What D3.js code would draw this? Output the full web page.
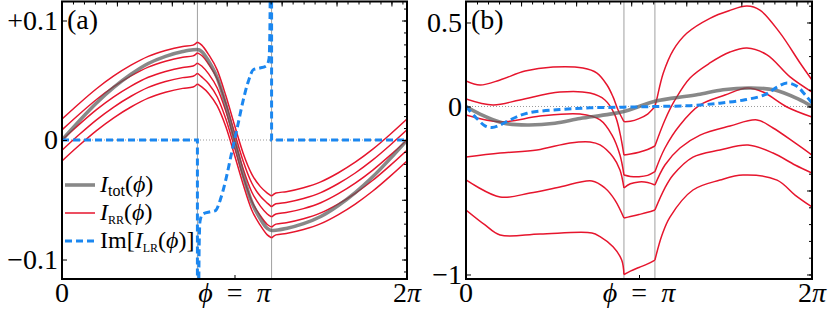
<!DOCTYPE html>
<html>
<head>
<meta charset="utf-8">
<script src="https://cdn.jsdelivr.net/npm/d3@7"></script>
<style>
body { margin: 0; background: #fff; }
</style>
</head>
<body>
<svg id="vis" width="830" height="312"></svg>
<script>
// phi is given in units of pi everywhere

// ---- panel (a) ----
const phiA = [0, 0.1, 0.2, 0.3, 0.4, 0.5, 0.6, 0.7, 0.76, 0.785, 0.81, 0.85, 0.9, 0.95, 1.0,
    1.05, 1.1, 1.15, 1.19, 1.215, 1.24, 1.3, 1.4, 1.5, 1.6, 1.7, 1.8, 1.9, 2.0];
const kinksA = [0.785, 1.215];
const totA = [0, 0.016, 0.031, 0.044, 0.055, 0.064, 0.070, 0.074, 0.0755, 0.0757,
    0.074, 0.066, 0.052, 0.029, 0, -0.029, -0.052, -0.066, -0.074, -0.0757, -0.0755,
    -0.074, -0.070, -0.064, -0.055, -0.044, -0.031, -0.016, 0];
const rrA = [
    [0.0175, 0.0306, 0.0429, 0.0536, 0.0626, 0.0700, 0.0749, 0.0782, 0.0794, 0.0819,
     0.0794, 0.0715, 0.0585, 0.037, 0.0125, -0.011, -0.0285, -0.039, -0.0444, -0.0469, -0.0444,
     -0.0432, -0.0399, -0.0350, -0.0276, -0.0186, -0.0079, 0.0044, 0.0175],
    [0.0085, 0.0216, 0.0339, 0.0446, 0.0536, 0.0610, 0.0659, 0.0692, 0.0704, 0.0729,
     0.0707, 0.0634, 0.051, 0.0305, 0.0063, -0.0175, -0.036, -0.0471, -0.0528, -0.0559, -0.0534,
     -0.0522, -0.0489, -0.0440, -0.0366, -0.0276, -0.0169, -0.0046, 0.0085],
    [0, 0.0131, 0.0254, 0.0361, 0.0451, 0.0525, 0.0574, 0.0607, 0.0619, 0.0644,
     0.0619, 0.0553, 0.0435, 0.024, 0, -0.024, -0.0435, -0.0553, -0.0619, -0.0644, -0.0619,
     -0.0607, -0.0574, -0.0525, -0.0451, -0.0361, -0.0254, -0.0131, 0],
    [-0.0085, 0.0046, 0.0169, 0.0276, 0.0366, 0.0440, 0.0489, 0.0522, 0.0534, 0.0559,
     0.0528, 0.0471, 0.036, 0.0175, -0.0063, -0.0305, -0.051, -0.0634, -0.0707, -0.0729, -0.0704,
     -0.0692, -0.0659, -0.0610, -0.0536, -0.0446, -0.0339, -0.0216, -0.0085],
    [-0.0175, -0.0044, 0.0079, 0.0186, 0.0276, 0.0350, 0.0399, 0.0432, 0.0444, 0.0469,
     0.0444, 0.039, 0.0285, 0.011, -0.0125, -0.037, -0.0585, -0.0715, -0.0794, -0.0819, -0.0794,
     -0.0782, -0.0749, -0.0700, -0.0626, -0.0536, -0.0429, -0.0306, -0.0175]
];
// Im[I_LR], three pieces (diverges at the kinks)
const lrA = [
    [[0, 0], [0.785, 0], [0.785, -0.3]],
    [[0.788, -0.3], [0.795, -0.09], [0.80, -0.068], [0.815, -0.062], [0.86, -0.060], [0.89, -0.059],
     [0.92, -0.049], [0.95, -0.033], [0.98, -0.013], [1.0, 0], [1.02, 0.013], [1.05, 0.033],
     [1.08, 0.049], [1.11, 0.059], [1.14, 0.060], [1.185, 0.062], [1.20, 0.068], [1.205, 0.09], [1.212, 0.3]],
    [[1.215, 0.3], [1.215, 0], [2, 0]]
];
const yTicksA = [0.1, 0, -0.1];
const yLabelsA = ["+0.1", "0", "\u22120.1"];

// ---- panel (b) ----
const kinksB = [0.913, 1.092];
const totB = [[0, 0], [0.081, -0.045], [0.214, -0.098], [0.353, -0.110], [0.514, -0.100], [0.659, -0.072],
    [0.803, -0.050], [0.913, -0.030], [1.0, 0], [1.087, 0.030], [1.197, 0.050], [1.341, 0.072],
    [1.486, 0.100], [1.647, 0.110], [1.786, 0.098], [1.919, 0.045], [2.0, 0]];
const lrB = [[0, 0], [0.052, -0.06], [0.110, -0.115], [0.150, -0.125], [0.197, -0.11], [0.254, -0.08],
    [0.353, -0.04], [0.543, -0.018], [0.717, -0.008], [0.913, -0.004], [1.092, 0], [1.295, 0.005],
    [1.468, 0.02], [1.613, 0.04], [1.728, 0.07], [1.798, 0.115], [1.855, 0.14], [1.913, 0.12],
    [1.960, 0.07], [2.0, 0.02]];
const rrBLeft = [
    [[0, 0.152], [0.081, 0.128], [0.197, 0.158], [0.341, 0.211], [0.503, 0.235], [0.676, 0.229],
     [0.757, 0.199], [0.815, 0.128], [0.850, 0.057], [0.879, -0.021], [0.913, -0.090]],
    [[0, 0.045], [0.156, 0.009], [0.312, 0.039], [0.543, 0.086], [0.717, 0.080], [0.803, 0.039],
     [0.861, -0.051], [0.890, -0.158], [0.913, -0.289]],
    [[0, -0.051], [0.197, -0.092], [0.428, -0.057], [0.659, -0.045], [0.775, -0.080], [0.844, -0.170],
     [0.890, -0.289], [0.913, -0.408]],
    [[0, -0.301], [0.197, -0.277], [0.410, -0.259], [0.601, -0.217], [0.717, -0.211], [0.775, -0.229],
     [0.850, -0.301], [0.890, -0.378], [0.913, -0.485]],
    [[0, -0.437], [0.197, -0.539], [0.370, -0.515], [0.543, -0.479], [0.728, -0.443], [0.803, -0.485],
     [0.861, -0.557], [0.913, -0.664]],
    [[0, -0.616], [0.110, -0.705], [0.197, -0.765], [0.428, -0.759], [0.728, -0.753], [0.775, -0.775],
     [0.850, -0.835], [0.900, -0.914], [0.913, -1.0]]
];
const rrBMid = [
    [[0.913, -0.090], [0.95, -0.088], [1.0, -0.072], [1.05, -0.045], [1.092, -0.001]],
    [[0.913, -0.289], [0.95, -0.283], [1.0, -0.272], [1.05, -0.256], [1.092, -0.235]],
    [[0.913, -0.408], [0.95, -0.416], [1.0, -0.418], [1.05, -0.410], [1.092, -0.388]],
    [[0.913, -0.485], [0.95, -0.460], [1.0, -0.449], [1.05, -0.452], [1.092, -0.467]],
    [[0.913, -0.664], [0.95, -0.655], [1.0, -0.643], [1.05, -0.630], [1.092, -0.616]],
    [[0.913, -1.0], [0.95, -0.980], [1.0, -0.958], [1.05, -0.937], [1.092, -0.914]]
];
const rrBRight = [
    [[1.092, -0.001], [1.102, 0.04], [1.140, 0.198], [1.198, 0.336], [1.276, 0.436], [1.410, 0.525],
     [1.520, 0.570], [1.624, 0.598], [1.699, 0.574], [1.815, 0.438], [1.931, 0.259], [2.0, 0.158]],
    [[1.092, -0.235], [1.150, -0.080], [1.208, 0.039], [1.295, 0.170], [1.410, 0.259], [1.526, 0.324],
     [1.624, 0.348], [1.740, 0.307], [1.873, 0.176], [2.0, 0.086]],
    [[1.092, -0.388], [1.150, -0.247], [1.237, -0.110], [1.353, 0.009], [1.497, 0.068], [1.624, 0.110],
     [1.717, 0.086], [1.855, -0.003], [2.0, -0.063]],
    [[1.092, -0.467], [1.150, -0.348], [1.237, -0.247], [1.353, -0.170], [1.526, -0.116], [1.682, -0.080],
     [1.775, -0.128], [1.902, -0.217], [2.0, -0.289]],
    [[1.092, -0.616], [1.150, -0.485], [1.197, -0.408], [1.312, -0.301], [1.468, -0.259], [1.630, -0.229],
     [1.775, -0.277], [1.902, -0.348], [2.0, -0.396]],
    [[1.092, -0.914], [1.133, -0.765], [1.179, -0.658], [1.312, -0.497], [1.468, -0.438], [1.601, -0.408],
     [1.798, -0.438], [1.902, -0.527], [2.0, -0.598]]
];
const yTicksB = [0.5, 0, -1];
const yLabelsB = ["0.5", "0", "\u22121"];

const RED = "#e6152d";
const GRAY = "#5a5a5a";
const BLUE = "#1b87f0";
const FS = 28;
const FONT = "'Liberation Serif'";

const svg = d3.select('#vis');

const xA = d3.scaleLinear().domain([0, 2]).range([62, 407]);
const yA = d3.scaleLinear().domain([-0.1163, 0.1159]).range([279, 1.5]);
const xB = d3.scaleLinear().domain([0, 2]).range([466, 812]);
const yB = d3.scaleLinear().domain([-1.0268, 0.625]).range([279, 1.5]);

// split one sampled curve into pieces at the kink positions
function splitAt(phis, vals, kinks) {
    var pieces = [], cur = [];
    phis.forEach(function (p, i) {
        cur.push([p, vals[i]]);
        if (kinks.indexOf(p) >= 0) {
            pieces.push(cur);
            cur = [[p, vals[i]]];
        }
    });
    pieces.push(cur);
    return pieces;
}

function label(sel, size) {
    return sel.style("font-family", FONT).style("font-size", size + "px");
}

function panel(id, x, y, opts) {
    var g = svg.append("g");
    var x0 = x.range()[0], x1 = x.range()[1];
    var yb = y.range()[0], yt = y.range()[1];

    svg.append("clipPath").attr("id", "clip" + id)
        .append("rect")
        .attr("x", x0).attr("y", yt)
        .attr("width", x1 - x0).attr("height", yb - yt);

    var plot = g.append("g").attr("clip-path", "url(#clip" + id + ")");

    // zero line and kink markers
    plot.append("line")
        .attr("x1", x0).attr("x2", x1)
        .attr("y1", y(0)).attr("y2", y(0))
        .attr("stroke", "#9a9a9a").attr("stroke-width", 1)
        .attr("stroke-dasharray", "1,2");
    plot.selectAll(".kink")
        .data(opts.kinks)
        .enter().append("line")
        .attr("x1", function (d) { return x(d); })
        .attr("x2", function (d) { return x(d); })
        .attr("y1", yt).attr("y2", yb)
        .attr("stroke", "#a0a0a0").attr("stroke-width", 1);

    var smooth = d3.line()
        .x(function (d) { return x(d[0]); })
        .y(function (d) { return y(d[1]); })
        .curve(opts.curve);
    var straight = d3.line()
        .x(function (d) { return x(d[0]); })
        .y(function (d) { return y(d[1]); });

    // I_RR
    plot.selectAll(".rr")
        .data(opts.rr)
        .enter().append("path")
        .attr("d", smooth)
        .attr("fill", "none")
        .attr("stroke", RED)
        .attr("stroke-width", 1.5);

    // I_tot
    plot.append("path")
        .attr("d", smooth(opts.tot))
        .attr("fill", "none")
        .attr("stroke", GRAY)
        .attr("stroke-opacity", 0.72)
        .attr("stroke-width", 3.6);

    // Im[I_LR]
    plot.selectAll(".lr")
        .data(opts.lr)
        .enter().append("path")
        .attr("d", function (d) {
            return d.length > 3 ? smooth(d) : straight(d);
        })
        .attr("fill", "none")
        .attr("stroke", BLUE)
        .attr("stroke-width", 3)
        .attr("stroke-dasharray", "7,4");

    // ticks: right (minor/major), top (every 0.2 rad), left and bottom majors
    function tickSet(axis, vals, size, tx) {
        var a = g.append("g")
            .attr("transform", tx)
            .call(axis.tickValues(vals).tickSize(-size).tickFormat(""));
        a.select(".domain").remove();
        a.selectAll("line").attr("stroke", "#000").attr("stroke-width", 1);
    }
    tickSet(d3.axisRight(y), opts.rightMinor, 3, "translate(" + x1 + ",0)");
    tickSet(d3.axisRight(y), opts.rightMajor, 5, "translate(" + x1 + ",0)");
    var radMinor = d3.range(1, 32).map(function (i) { return (i * 0.2) / Math.PI; })
        .filter(function (p) { return p < 2; });
    var radMajor = [1, 2, 3, 4, 5, 6].map(function (r) { return r / Math.PI; });
    tickSet(d3.axisTop(x), radMinor, 3, "translate(0," + yt + ")");
    tickSet(d3.axisTop(x), radMajor, 5, "translate(0," + yt + ")");
    tickSet(d3.axisLeft(y), opts.yTicks, 5, "translate(" + x0 + ",0)");
    tickSet(d3.axisBottom(x), [1], 4, "translate(0," + yb + ")");

    // frame
    g.append("rect")
        .attr("x", x0).attr("y", yt)
        .attr("width", x1 - x0).attr("height", yb - yt)
        .attr("fill", "none").attr("stroke", "#000").attr("stroke-width", 2);

    // tick labels
    label(g.selectAll(".ylab")
        .data(opts.yTicks)
        .enter().append("text")
        .attr("x", x0 - 4)
        .attr("y", function (d) { return y(d); })
        .attr("dy", "0.33em")
        .attr("text-anchor", "end")
        .text(function (d, i) { return opts.yLabels[i]; }), FS);

    label(g.append("text").attr("x", x(0)).attr("y", 302)
        .attr("text-anchor", "middle").text("0"), FS);
    var mid = label(g.append("text").attr("x", x(1)).attr("y", 302)
        .attr("text-anchor", "middle"), FS);
    mid.append("tspan").style("font-style", "italic").text("\u03d5");
    mid.append("tspan").text("\u2002=\u2002");
    mid.append("tspan").style("font-style", "italic").text("\u03c0");
    var end = label(g.append("text").attr("x", x(2)).attr("y", 302)
        .attr("text-anchor", "middle"), FS);
    end.append("tspan").text("2");
    end.append("tspan").style("font-style", "italic").text("\u03c0");

    label(g.append("text")
        .attr("x", x0 + 5).attr("y", 29)
        .text(opts.tag), FS);

    return g;
}

var rrPiecesA = [];
rrA.forEach(function (vals) {
    rrPiecesA = rrPiecesA.concat(splitAt(phiA, vals, kinksA));
});
var totPairsA = phiA.map(function (p, i) { return [p, totA[i]]; });

var gA = panel("A", xA, yA, {
    curve: d3.curveMonotoneX,
    kinks: kinksA,
    rr: rrPiecesA,
    tot: totPairsA,
    lr: lrA,
    yTicks: yTicksA,
    yLabels: yLabelsA,
    rightMinor: d3.range(-11, 12).map(function (i) { return i / 100; }),
    rightMajor: [-0.1, -0.05, 0, 0.05, 0.1],
    tag: "(a)"
});

panel("B", xB, yB, {
    curve: d3.curveCatmullRom.alpha(0.5),
    kinks: kinksB,
    rr: rrBLeft.concat(rrBMid, rrBRight),
    tot: totB,
    lr: [lrB],
    yTicks: yTicksB,
    yLabels: yLabelsB,
    rightMinor: d3.range(-10, 7).map(function (i) { return i / 10; }),
    rightMajor: [-1, -0.5, 0, 0.5],
    tag: "(b)"
});

// legend in panel (a)
var legend = [
    { stroke: GRAY, width: 3.6, opacity: 0.72, dash: null },
    { stroke: RED, width: 1.5, opacity: 1, dash: null },
    { stroke: BLUE, width: 3, opacity: 1, dash: "7,4" }
];
var leg = gA.append("g");
leg.selectAll("line")
    .data(legend)
    .enter().append("line")
    .attr("x1", 65).attr("x2", 95)
    .attr("y1", function (d, i) { return 185 + i * 28; })
    .attr("y2", function (d, i) { return 185 + i * 28; })
    .attr("stroke", function (d) { return d.stroke; })
    .attr("stroke-width", function (d) { return d.width; })
    .attr("stroke-opacity", function (d) { return d.opacity; })
    .attr("stroke-dasharray", function (d) { return d.dash; });

function legText(row, pre, sub, post) {
    var t = label(leg.append("text")
        .attr("x", 100).attr("y", 185 + row * 28)
        .attr("dy", "0.3em"), 24);
    if (pre) t.append("tspan").text(pre);
    t.append("tspan").style("font-style", "italic").text("I");
    t.append("tspan").style("font-size", sub.size + "px").attr("dy", 4).text(sub.text);
    t.append("tspan").attr("dy", -4).text("(");
    t.append("tspan").style("font-style", "italic").text("\u03d5");
    t.append("tspan").text(post);
}
legText(0, "", { text: "tot", size: 16 }, ")");
legText(1, "", { text: "RR", size: 12 }, ")");
legText(2, "Im[", { text: "LR", size: 12 }, ")]");
</script>
</body>
</html>
